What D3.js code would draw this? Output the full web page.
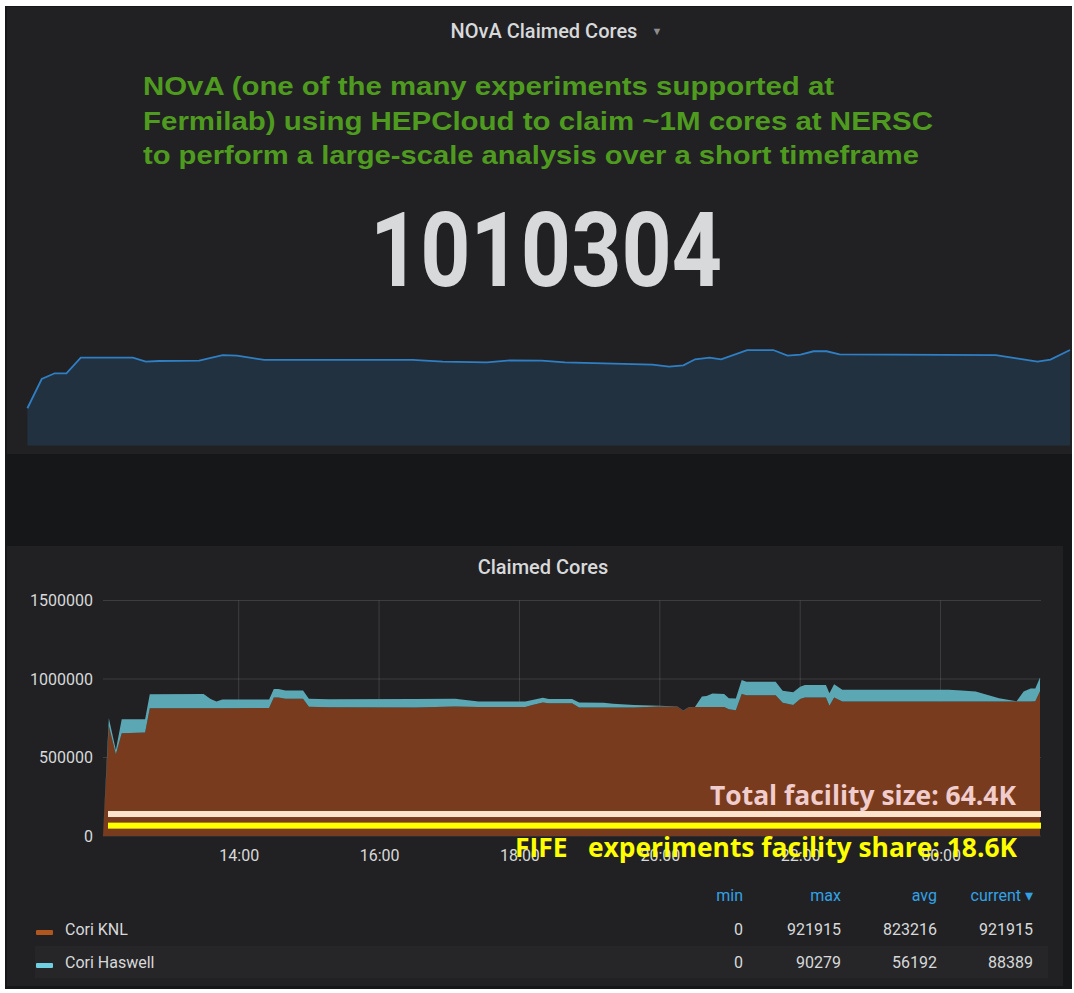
<!DOCTYPE html>
<html lang="en">
<head>
    <meta charset="UTF-8">
    <title>NOvA Claimed Cores</title>
    <script src="https://d3js.org/d3.v7.min.js"></script>
    <style>
        body { margin: 0; background: #fff; font-family: Roboto, "Noto Sans", sans-serif; }
        svg { display: block; }
    </style>
</head>
<body>
    <svg id="chart"></svg>
    <script>
        // bottom chart: stacked claimed cores per site
        const times = ["2018-03-22 12:04","2018-03-22 12:09","2018-03-22 12:15","2018-03-22 12:20","2018-03-22 12:40",
            "2018-03-22 12:44","2018-03-22 13:30","2018-03-22 13:36","2018-03-22 13:41","2018-03-22 13:46",
            "2018-03-22 14:26","2018-03-22 14:30","2018-03-22 14:34","2018-03-22 14:40","2018-03-22 14:55",
            "2018-03-22 15:00","2018-03-22 15:17","2018-03-22 16:31","2018-03-22 17:05","2018-03-22 17:25",
            "2018-03-22 18:05","2018-03-22 18:11","2018-03-22 18:20","2018-03-22 18:25","2018-03-22 18:45",
            "2018-03-22 18:51","2018-03-22 19:12","2018-03-22 19:20","2018-03-22 19:38","2018-03-22 20:00",
            "2018-03-22 20:15","2018-03-22 20:20","2018-03-22 20:25","2018-03-22 20:30","2018-03-22 20:36",
            "2018-03-22 20:40","2018-03-22 20:45","2018-03-22 20:55","2018-03-22 20:59","2018-03-22 21:05",
            "2018-03-22 21:10","2018-03-22 21:14","2018-03-22 21:39","2018-03-22 21:45","2018-03-22 21:54",
            "2018-03-22 22:00","2018-03-22 22:04","2018-03-22 22:22","2018-03-22 22:25","2018-03-22 22:29",
            "2018-03-22 22:36","2018-03-23 00:07","2018-03-23 00:18","2018-03-23 00:30","2018-03-23 00:50",
            "2018-03-23 01:05","2018-03-23 01:11","2018-03-23 01:17","2018-03-23 01:21","2018-03-23 01:25"];
        const coriKNL = [0,700000,520000,655000,660000,
            813000,814000,813000,813000,813000,
            816000,882000,882000,875000,875000,
            823000,820000,819000,825000,822000,
            822000,835000,851000,846000,846000,
            818000,818000,818000,818000,825000,
            823000,798000,820000,821000,821000,
            821000,821000,821000,807000,801000,
            904000,896000,896000,848000,835000,
            872000,882000,882000,830000,882000,
            856000,856000,856000,856000,856000,
            856000,856000,856000,858000,921915];
        const coriHaswell = [0,50000,28000,89000,84000,
            90000,90279,59000,43000,56000,
            53000,54000,54000,52000,52000,
            52000,51000,54000,50000,34000,
            34000,32000,29000,26000,26000,
            33000,31000,24000,17000,5000,
            2000,1000,1000,1000,67000,
            71000,86000,84000,71000,75000,
            90000,86000,86000,77000,81000,
            79000,80000,80000,79000,84000,
            75000,75000,71000,64000,22000,
            3000,64000,83000,82000,88389];

        // top sparkline (total claimed)
        const sparkTimes = ["2018-03-22 12:04","2018-03-22 12:15","2018-03-22 12:25","2018-03-22 12:34","2018-03-22 12:45",
            "2018-03-22 13:25","2018-03-22 13:35","2018-03-22 13:45","2018-03-22 14:16","2018-03-22 14:34",
            "2018-03-22 14:45","2018-03-22 15:06","2018-03-22 17:00","2018-03-22 17:23","2018-03-22 17:57",
            "2018-03-22 18:15","2018-03-22 18:39","2018-03-22 18:57","2018-03-22 20:04","2018-03-22 20:17",
            "2018-03-22 20:28","2018-03-22 20:37","2018-03-22 20:48","2018-03-22 20:57","2018-03-22 21:17",
            "2018-03-22 21:37","2018-03-22 21:48","2018-03-22 21:58","2018-03-22 22:08","2018-03-22 22:18",
            "2018-03-22 22:28","2018-03-23 00:28","2018-03-23 00:44","2018-03-23 01:00","2018-03-23 01:10",
            "2018-03-23 01:25"];
        const sparkTotal = [394000,703000,764000,764000,929000,
            929000,887000,894000,897000,957000,
            950000,905000,905000,887000,880000,
            901000,897000,880000,855000,834000,
            848000,912000,929000,912000,1010000,
            1010000,950000,961000,997000,997000,
            965000,957000,922000,887000,908000,
            1010304];
        const currentTotal = "1010304";

        const yTicks = [0, 500000, 1000000, 1500000];
        const xTicks = ["2018-03-22 14:00","2018-03-22 16:00","2018-03-22 18:00","2018-03-22 20:00","2018-03-22 22:00","2018-03-23 00:00"];

        const seriesNames = ["Cori KNL", "Cori Haswell"];
        const statHeaders = ["min", "max", "avg", "current \u25BE"];
        const knlStats = ["0", "921915", "823216", "921915"];
        const haswellStats = ["0", "90279", "56192", "88389"];

        // facility annotations (value in cores where the bar sits)
        const annoNames = ["Total facility size: 64.4K", "FIFE   experiments facility share: 18.6K"];
        const annoLevels = [140000, 66000];

        const noteLines = ["NOvA (one of the many experiments supported at",
            "Fermilab) using HEPCloud to claim ~1M cores at NERSC",
            "to perform a large-scale analysis  over a short timeframe"];

        const W = 1074, H = 993;
        const parse = d3.timeParse("%Y-%m-%d %H:%M");
        const svg = d3.select("#chart").attr("width", W).attr("height", H);

        // backgrounds
        svg.append("rect").attr("x", 5).attr("y", 6).attr("width", 1067).attr("height", 983).attr("fill", "#161719");
        svg.append("rect").attr("x", 7).attr("y", 7).attr("width", 1065).attr("height", 447).attr("fill", "#212124");
        svg.append("rect").attr("x", 7).attr("y", 546).attr("width", 1056).attr("height", 440).attr("fill", "#212124");

        // ---- top panel ----
        svg.append("text").attr("x", 544).attr("y", 38).attr("text-anchor", "middle")
           .attr("font-size", 20).attr("font-weight", 500).attr("fill", "#d8d9da").text("NOvA Claimed Cores");
        svg.append("text").attr("x", 657).attr("y", 35).attr("text-anchor", "middle")
           .attr("font-size", 11).attr("fill", "#8e8e8e").text("\u25BC");

        const noteWidths = [691, 790, 776];
        svg.append("g").selectAll("text").data(noteLines).join("text")
           .attr("x", 143).attr("y", (d, i) => 95 + i * 34.5)
           .attr("font-family", "'Liberation Sans', Arial, sans-serif")
           .attr("font-weight", "bold").attr("font-size", 25)
           .attr("textLength", (d, i) => noteWidths[i]).attr("lengthAdjust", "spacingAndGlyphs")
           .attr("fill", "#4f9b1f").text(d => d);

        svg.append("text").attr("x", 546).attr("y", 286).attr("text-anchor", "middle")
           .attr("font-size", 104).attr("font-weight", 700).attr("fill", "#d8d9da")
           .attr("textLength", 352).attr("lengthAdjust", "spacingAndGlyphs").text(currentTotal);

        const spark = sparkTimes.map((t, i) => ({t: parse(t), v: sparkTotal[i]}));
        const sx = d3.scaleTime().domain(d3.extent(spark, d => d.t)).range([27.4, 1070]);
        const sy = d3.scaleLinear().domain([0, d3.max(spark, d => d.v)]).range([445.5, 350]);
        svg.append("path").datum(spark)
           .attr("d", d3.area().x(d => sx(d.t)).y0(sy(0)).y1(d => sy(d.v)))
           .attr("fill", "#1f78c1").attr("fill-opacity", 0.18);
        svg.append("path").datum(spark)
           .attr("d", d3.line().x(d => sx(d.t)).y(d => sy(d.v)))
           .attr("fill", "none").attr("stroke", "#2f7fc4").attr("stroke-width", 1.8);

        // ---- bottom panel ----
        svg.append("text").attr("x", 543).attr("y", 574).attr("text-anchor", "middle")
           .attr("font-size", 20).attr("font-weight", 500).attr("fill", "#d8d9da").text("Claimed Cores");

        const data = times.map((t, i) => ({t: parse(t), knl: coriKNL[i], haswell: coriHaswell[i]}));
        const x = d3.scaleTime().domain(d3.extent(data, d => d.t)).range([103, 1040]);
        const y = d3.scaleLinear().domain([0, 1500000]).range([836, 600.5]);
        const plotRight = 1041;

        const grid = svg.append("g").attr("stroke", "#ffffff").attr("stroke-opacity", 0.13).attr("stroke-width", 1);
        grid.selectAll("line.h").data(yTicks).join("line").attr("class", "h")
            .attr("x1", x.range()[0]).attr("x2", plotRight).attr("y1", d => y(d)).attr("y2", d => y(d));
        grid.selectAll("line.v").data(xTicks.map(parse)).join("line").attr("class", "v")
            .attr("x1", d => x(d)).attr("x2", d => x(d)).attr("y1", y(1500000)).attr("y2", y(0));

        const stacked = d3.stack().keys(["knl", "haswell"])(data);
        const fills = ["#793b1d", "#5ca7b4"];
        svg.append("g").selectAll("path").data(stacked).join("path")
           .attr("d", d3.area().x(d => x(d.data.t)).y0(d => y(d[0])).y1(d => y(d[1])))
           .attr("fill", (d, i) => fills[i]);

        const yAxis = d3.axisLeft(y).tickValues(yTicks).tickSize(0).tickPadding(10).tickFormat(d3.format("d"));
        const gy = svg.append("g").attr("transform", `translate(${x.range()[0]},0)`).call(yAxis);
        gy.select(".domain").remove();
        gy.selectAll("text").attr("font-size", 16).attr("fill", "#d8d9da").attr("font-family", "Roboto, sans-serif");

        const xAxis = d3.axisBottom(x).tickValues(xTicks.map(parse)).tickSize(0).tickPadding(14).tickFormat(d3.timeFormat("%H:%M"));
        const gx = svg.append("g").attr("transform", `translate(0,${y(0)})`).call(xAxis);
        gx.select(".domain").remove();
        gx.selectAll("text").attr("font-size", 16).attr("fill", "#d8d9da").attr("font-family", "Roboto, sans-serif");

        // annotation bars and captions
        const annoColors = ["#fde3cd", "#ffff00"];
        svg.append("g").selectAll("rect").data(annoLevels).join("rect")
           .attr("x", 108).attr("width", plotRight - 108)
           .attr("y", d => y(d) - 3).attr("height", 6)
           .attr("fill", (d, i) => annoColors[i]);
        const annoText = [{x: 1016, y: 805, w: 306, c: "#f0cccc"}, {x: 1017, y: 857, w: 502, c: "#ffff00"}];
        svg.append("g").selectAll("text").data(annoNames).join("text")
           .attr("x", (d, i) => annoText[i].x).attr("y", (d, i) => annoText[i].y)
           .attr("text-anchor", "end").attr("font-family", "'Open Sans', sans-serif")
           .attr("font-weight", "bold").attr("font-size", 26)
           .attr("textLength", (d, i) => annoText[i].w).attr("lengthAdjust", "spacingAndGlyphs")
           .attr("fill", (d, i) => annoText[i].c).style("white-space", "pre").text(d => d);

        // legend table
        const colRight = [743, 841, 937, 1033];
        const leg = svg.append("g").attr("font-size", 16);
        leg.selectAll("text.hd").data(statHeaders).join("text").attr("class", "hd")
           .attr("x", (d, i) => colRight[i]).attr("y", 901).attr("text-anchor", "end")
           .attr("fill", "#33a2e5").text(d => d);
        leg.append("rect").attr("x", 35).attr("y", 946).attr("width", 1013).attr("height", 32).attr("fill", "#262629");
        const rows = [knlStats, haswellStats];
        const swatches = ["#b0561f", "#6ed0e0"];
        const rowY = [929, 962];
        rows.forEach((r, k) => {
            leg.append("rect").attr("x", 36).attr("y", rowY[k] + 1).attr("width", 17).attr("height", 5).attr("rx", 1)
               .attr("fill", swatches[k]);
            leg.append("text").attr("x", 65).attr("y", rowY[k] + 6).attr("fill", "#d8d9da").text(seriesNames[k]);
            leg.selectAll(null).data(r).join("text")
               .attr("x", (d, i) => colRight[i]).attr("y", rowY[k] + 6).attr("text-anchor", "end")
               .attr("fill", "#d8d9da").text(d => d);
        });
    </script>
</body>
</html>
